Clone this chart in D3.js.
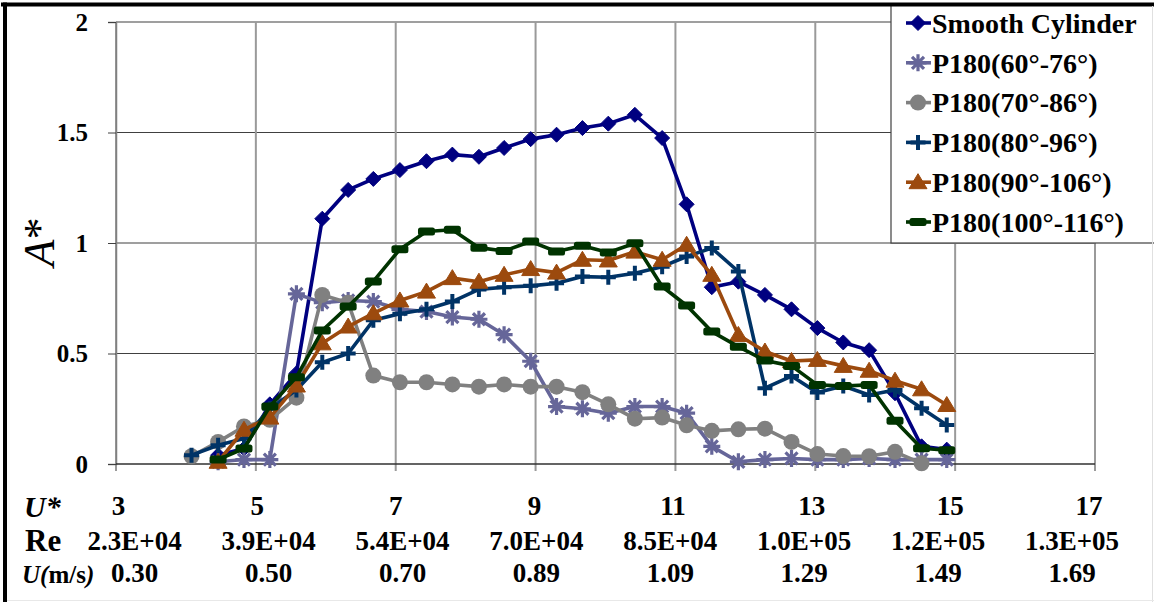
<!DOCTYPE html>
<html>
<head>
<meta charset="utf-8">
<script src="https://cdn.jsdelivr.net/npm/d3@7"></script>
<style>
  html, body { margin: 0; padding: 0; background: #fff; }
  svg { display: block; }
  text { font-family: "Liberation Serif", "Times New Roman", serif; font-weight: bold; fill: #000; }
</style>
</head>
<body>
<svg id="chart" width="1154" height="602"></svg>
<script>
// Reduced velocity U* at each measured run
const uStar = [4.08, 4.46, 4.83, 5.20, 5.58, 5.95, 6.32, 6.68, 7.06, 7.44,
               7.81, 8.19, 8.55, 8.93, 9.30, 9.67, 10.04, 10.42, 10.81, 11.16,
               11.52, 11.90, 12.28, 12.66, 13.03, 13.40, 13.77, 14.14, 14.52, 14.88];

// Amplitude ratio A* per configuration (null = run not recorded)
const smoothCylinder = [null, 0.04, 0.07, 0.27, 0.41, 1.11, 1.24, 1.29, 1.33, 1.37,
                        1.40, 1.39, 1.43, 1.47, 1.49, 1.52, 1.54, 1.58, 1.475, 1.175,
                        0.80, 0.825, 0.765, 0.70, 0.615, 0.55, 0.515, 0.32, 0.08, 0.065];
const p180_60_76 = [null, 0.01, 0.02, 0.02, 0.77, 0.73, 0.74, 0.735, 0.70, 0.69,
                    0.665, 0.655, 0.585, 0.465, 0.26, 0.25, 0.23, 0.26, 0.26, 0.23,
                    0.08, 0.01, 0.02, 0.025, 0.02, 0.02, 0.025, 0.02, 0.02, 0.02];
const p180_70_86 = [0.035, 0.10, 0.17, 0.20, 0.30, 0.765, 0.73, 0.40, 0.37, 0.37,
                    0.36, 0.35, 0.36, 0.35, 0.35, 0.325, 0.27, 0.205, 0.21, 0.175,
                    0.15, 0.157, 0.16, 0.10, 0.045, 0.036, 0.035, 0.055, 0.003, null];
const p180_80_96 = [0.04, 0.085, 0.115, 0.25, 0.335, 0.46, 0.50, 0.65, 0.68, 0.70,
                    0.735, 0.79, 0.80, 0.806, 0.818, 0.848, 0.845, 0.863, 0.893, 0.939,
                    0.977, 0.871, 0.343, 0.398, 0.323, 0.353, 0.312, 0.335, 0.252, 0.177];
const p180_90_106 = [null, 0.01, 0.155, 0.21, 0.355, 0.546, 0.622, 0.682, 0.74, 0.78,
                     0.841, 0.825, 0.856, 0.882, 0.866, 0.924, 0.921, 0.961, 0.924, 0.992,
                     0.856, 0.584, 0.509, 0.466, 0.471, 0.444, 0.422, 0.377, 0.338, 0.267];
const p180_100_116 = [null, 0.02, 0.07, 0.26, 0.393, 0.604, 0.713, 0.826, 0.972, 1.052,
                      1.06, 0.979, 0.964, 1.007, 0.961, 0.988, 0.957, 0.999, 0.803, 0.717,
                      0.599, 0.531, 0.468, 0.444, 0.358, 0.353, 0.358, 0.196, 0.071, 0.062];

const seriesNames = ["Smooth Cylinder", "P180(60°-76°)", "P180(70°-86°)",
                     "P180(80°-96°)", "P180(90°-106°)", "P180(100°-116°)"];

// Axis ticks and the three rows of the axis table
const yTicks = [0, 0.5, 1, 1.5, 2];
const uStarTicks = [3, 5, 7, 9, 11, 13, 15, 17];
const reLabels = ["2.3E+04", "3.9E+04", "5.4E+04", "7.0E+04", "8.5E+04", "1.0E+05", "1.2E+05", "1.3E+05"];
const uLabels = ["0.30", "0.50", "0.70", "0.89", "1.09", "1.29", "1.49", "1.69"];

const seriesValues = [smoothCylinder, p180_60_76, p180_70_86, p180_80_96, p180_90_106, p180_100_116];
const colors = ["#000080", "#666699", "#808080", "#003366", "#9c4a0e", "#003300"];
const markerKinds = ["diamond", "asterisk", "circle", "plus", "triangle", "dash"];

const SERIF = '"Liberation Serif", "Times New Roman", serif';
const svg = d3.select("#chart");
const W = 1154, H = 602;
const plot = { left: 116, right: 1095, top: 22, bottom: 464 };

const x = d3.scaleLinear().domain([3, 17]).range([plot.left, plot.right]);
const y = d3.scaleLinear().domain([0, 2]).range([plot.bottom, plot.top]);

// Gridlines
const grid = svg.append("g");
grid.selectAll("line.h").data(yTicks.filter(d => d > 0)).join("line")
  .attr("x1", plot.left).attr("x2", plot.right)
  .attr("y1", d => y(d)).attr("y2", d => y(d))
  .attr("stroke", "#404040").attr("stroke-width", 1.2);
grid.selectAll("line.v").data(uStarTicks).join("line")
  .attr("x1", d => x(d)).attr("x2", d => x(d))
  .attr("y1", plot.top).attr("y2", plot.bottom + 7)
  .attr("stroke", "#9a9a9a").attr("stroke-width", 2);

// Axes
const yAxis = d3.axisLeft(y).tickValues(yTicks).tickSize(8).tickPadding(20).tickFormat(d3.format("~g"));
const gy = svg.append("g").attr("transform", `translate(${plot.left},0)`).call(yAxis)
  .attr("font-family", SERIF);
gy.select(".domain").attr("stroke", "#808080").attr("stroke-width", 1.5);
gy.selectAll(".tick line").attr("stroke", "#404040");
gy.selectAll(".tick text").style("font-size", "25px").style("font-family", SERIF)
  .style("font-weight", "bold").attr("fill", "#000");

svg.append("line")
  .attr("x1", plot.left).attr("x2", plot.right)
  .attr("y1", plot.bottom).attr("y2", plot.bottom)
  .attr("stroke", "#303030").attr("stroke-width", 1.5);

// Series lines and markers
const line = d3.line()
  .defined(d => d.v != null)
  .x(d => x(d.u)).y(d => y(d.v));

function drawMarker(sel, kind, color) {
  if (kind === "diamond") {
    sel.append("path").attr("d", "M0,-7.5L7.5,0L0,7.5L-7.5,0Z").attr("fill", color)
      .attr("stroke", color).attr("stroke-width", 1);
  } else if (kind === "triangle") {
    sel.append("path").attr("d", "M0,-8.5L9,6.5H-9Z").attr("fill", color)
      .attr("stroke", color).attr("stroke-width", 1).attr("stroke-linejoin", "round");
  } else if (kind === "circle") {
    sel.append("circle").attr("r", 8).attr("fill", color);
  } else if (kind === "plus") {
    sel.append("path").attr("d", "M-7.5,0H7.5M0,-7.5V7.5").attr("stroke", color)
      .attr("stroke-width", 4).attr("fill", "none");
  } else if (kind === "asterisk") {
    sel.append("path").attr("d", "M-6,-6L6,6M-6,6L6,-6M0,-8.5V8.5M-8.5,0H8.5").attr("stroke", color)
      .attr("stroke-width", 3.2).attr("fill", "none");
  } else if (kind === "dash") {
    sel.append("rect").attr("x", -8.5).attr("y", -4).attr("width", 17).attr("height", 8)
      .attr("rx", 2.5).attr("fill", color);
  }
}

const seriesG = svg.append("g");
seriesValues.forEach((vals, si) => {
  const pts = vals.map((v, i) => ({ u: uStar[i], v }));
  const g = seriesG.append("g");
  g.append("path").datum(pts)
    .attr("d", line)
    .attr("fill", "none").attr("stroke", colors[si])
    .attr("stroke-width", 3.6).attr("stroke-linejoin", "round");
  const m = g.selectAll("g.m").data(pts.filter(d => d.v != null)).join("g")
    .attr("transform", d => `translate(${x(d.u)},${y(d.v)})`);
  drawMarker(m, markerKinds[si], colors[si]);
});

// Legend
const legend = svg.append("g");
legend.append("rect").attr("x", 891).attr("y", 4).attr("width", W - 891 + 2).attr("height", 243 - 4)
  .attr("fill", "#fff").attr("stroke", "#404040").attr("stroke-width", 1.2);
const legendRow = d3.scaleLinear().domain([0, 5]).range([23, 222]);
seriesNames.forEach((name, si) => {
  const cy = legendRow(si);
  const row = legend.append("g");
  row.append("line").attr("x1", 906).attr("x2", 931).attr("y1", cy).attr("y2", cy)
    .attr("stroke", colors[si]).attr("stroke-width", 3.6);
  const mk = row.append("g").attr("transform", `translate(918,${cy})`);
  drawMarker(mk, markerKinds[si], colors[si]);
  row.append("text").attr("x", 932).attr("y", cy).attr("dy", "0.35em")
    .style("font-size", "28px").text(name);
});

// Y axis title A*
svg.append("text")
  .attr("transform", "translate(54,242) rotate(-90)")
  .attr("text-anchor", "middle")
  .style("font-size", "44px").style("font-weight", "normal").style("font-family", SERIF)
  .html('<tspan font-style="italic">A</tspan><tspan>*</tspan>');

// Axis table beneath the plot
const colUStar = d3.scaleLinear().domain([0, 7]).range([118.6, 1089]);
const colTable = d3.scaleLinear().domain([0, 7]).range([134.7, 1072]);

svg.append("g").selectAll("text").data(uStarTicks).join("text")
  .attr("x", (d, i) => colUStar(i)).attr("y", 506).attr("dy", "0.35em")
  .attr("text-anchor", "middle").style("font-size", "27px").text(d => d);
svg.append("g").selectAll("text").data(reLabels).join("text")
  .attr("x", (d, i) => colTable(i)).attr("y", 541).attr("dy", "0.35em")
  .attr("text-anchor", "middle").style("font-size", "27px").text(d => d);
svg.append("g").selectAll("text").data(uLabels).join("text")
  .attr("x", (d, i) => colTable(i)).attr("y", 573).attr("dy", "0.35em")
  .attr("text-anchor", "middle").style("font-size", "27px").text(d => d);

svg.append("text").attr("x", 24).attr("y", 506).attr("dy", "0.35em")
  .style("font-size", "30px").style("font-style", "italic").text("U*");
svg.append("text").attr("x", 25).attr("y", 540).attr("dy", "0.35em")
  .style("font-size", "31px").text("Re");
svg.append("text").attr("x", 22).attr("y", 574).attr("dy", "0.35em")
  .style("font-size", "25px")
  .html('<tspan font-style="italic">U(</tspan><tspan>m/s</tspan><tspan font-style="italic">)</tspan>');

// Frame around the figure
svg.append("line").attr("x1", 1).attr("x2", W).attr("y1", 4.5).attr("y2", 4.5)
  .attr("stroke", "#000").attr("stroke-width", 4);
svg.append("line").attr("x1", 5).attr("x2", 5).attr("y1", 2.5).attr("y2", H)
  .attr("stroke", "#000").attr("stroke-width", 4);
svg.append("line").attr("x1", W - 1.5).attr("x2", W - 1.5).attr("y1", 6).attr("y2", H)
  .attr("stroke", "#e0e0e0").attr("stroke-width", 1);
svg.append("line").attr("x1", 7).attr("x2", W).attr("y1", H - 1.5).attr("y2", H - 1.5)
  .attr("stroke", "#e8e8e8").attr("stroke-width", 1);
</script>
</body>
</html>
